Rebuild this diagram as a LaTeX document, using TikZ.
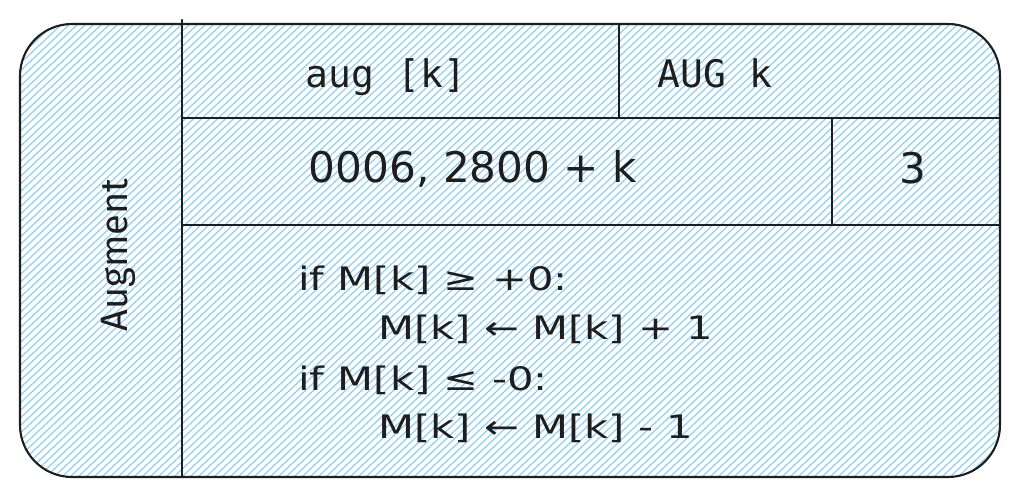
\documentclass[tikz,border=0pt]{standalone}
\usepackage{fontspec}
\setmainfont{Fira Sans}
\newfontfamily\codefont{DejaVu Sans}
\newfontfamily\monofont{DejaVu Sans Mono}
\usetikzlibrary{positioning}
\definecolor{hatchblue}{RGB}{140,206,250}
\definecolor{ink}{RGB}{30,30,30}
\tikzset{edge/.style={draw=ink, line width=1.5pt, line cap=round},
  hatch/.style={draw=hatchblue, line width=0.85pt},
  lbl/.style={font=\fontsize{27}{30}\selectfont, text=ink, inner sep=0pt},
  mono/.style={font=\monofont\fontsize{27}{30}\selectfont, text=ink, inner sep=0pt, anchor=base},
  hand/.style={font=\codefont\fontsize{30}{33}\selectfont, text=ink, inner sep=0pt, anchor=base},
  code/.style={font=\codefont\fontsize{23}{26}\selectfont, text=ink, inner sep=0pt, anchor=base west, xscale=1.29}}

\begin{document}
\begin{tikzpicture}[x=0.025cm, y=-0.025cm]
  \useasboundingbox (0,0) rectangle (1022,497);
  % hatched fill
  \begin{scope}
    \clip[rounded corners=1.3cm] (20,24) rectangle (1000,477);
    \foreach \i in {-560,-552,...,1010}{
      \draw[hatch] (\i,490) -- ++(530,-500);}
  \end{scope}
  % frame and grid
  \draw[edge, rounded corners=1.3cm] (20,24) rectangle (1000,477);
  \draw[edge] (182,20) -- (182,477);
  \draw[edge] (182,118) -- (1000,118);
  \draw[edge] (182,225) -- (1000,225);
  \draw[edge] (619,24) -- (619,118);
  \draw[edge] (832,118) -- (832,225);
  % labels
  \node[lbl, rotate=90] (name) at (118,255) {Augment};
  \node[mono] (mnem) at (386,88) {aug [k]};
  \node[mono] (asm) at (715,88) {AUG k};
  \node[hand] (word) at (473,183) {0006, 2800 + k};
  \node[hand] (cyc) at (913,184) {3};
  % semantics
  \node[code] (c1) at (298,291) {if M[k] ≥ +0:};
  \node[code] (c2) at (378,340) {M[k] ← M[k] + 1};
  \node[code] (c3) at (298,391) {if M[k] ≤ -0:};
  \node[code] (c4) at (378,439) {M[k] ← M[k] - 1};
\end{tikzpicture}
\end{document}
